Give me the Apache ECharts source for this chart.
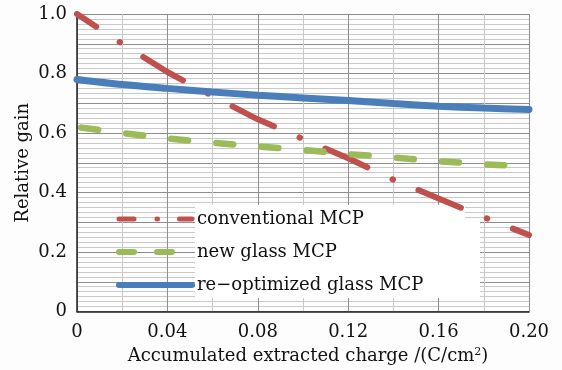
<!DOCTYPE html>
<html>
<head>
<meta charset="utf-8">
<script src="https://cdn.jsdelivr.net/npm/echarts@6/dist/echarts.min.js"></script>
<style>
  html, body { margin: 0; padding: 0; background: #fdfdfd; }
  #chart { width: 562px; height: 370px; }
</style>
</head>
<body>
<div id="chart"></div>
<script>
const charge = [0, 0.02, 0.04, 0.06, 0.08, 0.10, 0.12, 0.14, 0.16, 0.18, 0.20]
const conventionalMcp = [1.0, 0.90, 0.805, 0.724, 0.646, 0.58, 0.515, 0.443, 0.38, 0.317, 0.257]
const newGlassMcp = [0.62, 0.60, 0.582, 0.567, 0.555, 0.543, 0.529, 0.518, 0.505, 0.495, 0.488]
const reoptimizedMcp = [0.78, 0.763, 0.750, 0.738, 0.727, 0.718, 0.709, 0.699, 0.690, 0.684, 0.679]
const seriesNames = ['conventional MCP', 'new glass MCP', 're\u2212optimized glass MCP']

const FONT = 'DejaVu Serif'
const TEXT = '#111'

const pairs = (ys) => charge.map((x, i) => [x, ys[i]])

const chart = echarts.init(document.getElementById('chart'), null, { renderer: 'canvas' })

// legend symbol hidden, only the line is kept
const noSymbol = { color: 'transparent', borderWidth: 0, opacity: 0 }

chart.setOption({
  backgroundColor: '#fdfdfd',
  animation: false,
  grid: { left: 77, top: 14, right: 33, bottom: 57 },
  xAxis: {
    type: 'value',
    min: 0,
    max: 0.2,
    interval: 0.04,
    name: 'Accumulated extracted charge /(C/cm{sup|2})',
    nameLocation: 'middle',
    nameGap: 35,
    nameTextStyle: {
      fontFamily: FONT, fontSize: 18, color: TEXT, padding: [0, 0, 0, 10],
      rich: { sup: { fontFamily: FONT, fontSize: 11, color: TEXT, verticalAlign: 'top', padding: [0, 0, 8, 0] } },
    },
    axisLine: { lineStyle: { color: '#222', width: 1.5 } },
    axisTick: { show: false },
    axisLabel: {
      margin: 12, fontFamily: FONT, fontSize: 18, color: TEXT,
      formatter: (v) => (v === 0 ? '0' : v.toFixed(2)),
    },
    splitLine: { show: true, lineStyle: { color: '#8e8e8e', width: 1 } },
    minorTick: { show: false, splitNumber: 2 },
    minorSplitLine: { show: true, lineStyle: { color: '#c9c9c9', width: 1 } },
  },
  yAxis: {
    type: 'value',
    min: 0,
    max: 1,
    interval: 0.1,
    name: 'Relative gain',
    nameLocation: 'middle',
    nameGap: 45,
    nameMoveOverlap: false,
    nameTextStyle: { fontFamily: FONT, fontSize: 18, color: TEXT },
    axisLine: { show: true, lineStyle: { color: '#222', width: 1.5 } },
    axisTick: { show: false },
    axisLabel: {
      margin: 10, fontFamily: FONT, fontSize: 18, color: TEXT,
      formatter: (v) => {
        const k = Math.round(v * 10)
        if (k % 2 !== 0) return ''
        return k === 0 ? '0' : v.toFixed(1)
      },
    },
    splitLine: { show: true, lineStyle: { color: '#8e8e8e', width: 1 } },
    minorTick: { show: false, splitNumber: 6 },
    minorSplitLine: { show: true, lineStyle: { color: '#c9c9c9', width: 1 } },
  },
  legend: {
    orient: 'vertical',
    left: 116,
    top: 209,
    padding: 0,
    itemWidth: 73,
    itemHeight: 20,
    itemGap: 13,
    itemStyle: noSymbol,
    textStyle: { fontFamily: FONT, fontSize: 18, color: TEXT, lineHeight: 20 },
    data: [
      { name: seriesNames[0], itemStyle: noSymbol, lineStyle: { width: 5, type: [15, 23, 0.5, 22], dashOffset: 0, cap: 'round' } },
      { name: seriesNames[1], itemStyle: noSymbol, lineStyle: { width: 6, type: [15, 23], dashOffset: 0, cap: 'round' } },
      { name: seriesNames[2], itemStyle: noSymbol, lineStyle: { width: 6, type: 'solid', cap: 'round' } },
    ],
    z: 5,
  },
  graphic: [
    { type: 'rect', z: 1, silent: true, shape: { x: 195, y: 205, width: 270, height: 17 }, style: { fill: '#ffffff' } },
    { type: 'rect', z: 1, silent: true, shape: { x: 195, y: 221, width: 285, height: 77 }, style: { fill: '#ffffff' } },
  ],
  series: [
    {
      name: seriesNames[0],
      type: 'line',
      data: pairs(conventionalMcp),
      showSymbol: false,
      symbol: 'none',
      lineStyle: { color: '#c0504d', width: 6, type: [46, 28, 0.5, 27.5], dashOffset: 23, cap: 'round' },
      itemStyle: { color: '#c0504d' },
      z: 3,
    },
    {
      name: seriesNames[1],
      type: 'line',
      data: pairs(newGlassMcp),
      showSymbol: false,
      symbol: 'none',
      lineStyle: { color: '#9bbb59', width: 6.5, type: [17, 28.3], dashOffset: 41, cap: 'round' },
      itemStyle: { color: '#9bbb59' },
      z: 3,
    },
    {
      name: seriesNames[2],
      type: 'line',
      data: pairs(reoptimizedMcp),
      showSymbol: false,
      symbol: 'none',
      smooth: 0.3,
      lineStyle: { color: '#4a7ebb', width: 7, cap: 'round' },
      itemStyle: { color: '#4a7ebb' },
      z: 3,
    },
  ],
})
</script>
</body>
</html>
